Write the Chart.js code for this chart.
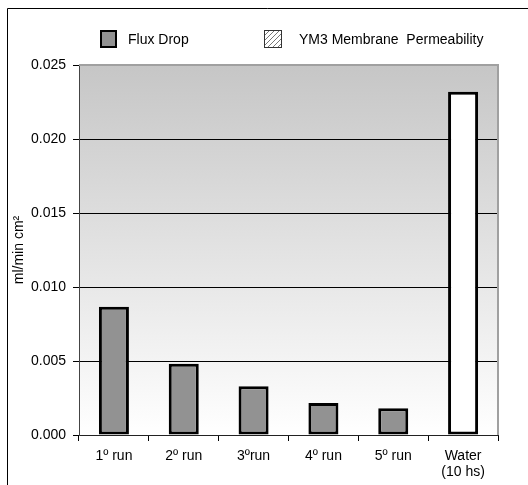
<!DOCTYPE html>
<html lang="en">
<head>
    <meta charset="UTF-8">
    <title>Flux Drop</title>
    <style>
        html, body { margin: 0; padding: 0; background: #fff; }
        .wrap { position: relative; width: 528px; height: 485px; }
    </style>
</head>
<body>
    <div class="wrap">
        <canvas id="fluxChart" width="528" height="485"></canvas>
    </div>

    <script src="https://cdn.jsdelivr.net/npm/chart.js"></script>
<script>
    const categories = ['1º run', '2º run', '3ºrun', '4º run', '5º run', ['Water', '(10 hs)']];
    const fluxDrop = [0.00866, 0.00481, 0.0033, 0.00217, 0.00181, null];
    const permeability = [null, null, null, null, null, 0.0232];
    const yTicks = [0, 0.005, 0.01, 0.015, 0.02, 0.025];

    const fontFamily = '"Liberation Sans", Arial, sans-serif';

    // hatch pattern for the legend box
    function makeHatch() {
        const c = document.createElement('canvas');
        c.width = 5;
        c.height = 5;
        const g = c.getContext('2d');
        g.fillStyle = '#fff';
        g.fillRect(0, 0, 5, 5);
        g.strokeStyle = '#777';
        g.lineWidth = 1;
        g.beginPath();
        g.moveTo(0, 5); g.lineTo(5, 0);
        g.moveTo(-1, 1); g.lineTo(1, -1);
        g.moveTo(4, 6); g.lineTo(6, 4);
        g.stroke();
        return g.createPattern(c, 'repeat');
    }

    // background gradient, frame, plot border, legend
    const decor = {
        id: 'decor',
        beforeDraw(chart) {
            const { ctx, chartArea: a } = chart;
            ctx.save();
            ctx.strokeStyle = '#000';
            ctx.lineWidth = 1;
            ctx.beginPath();
            ctx.moveTo(7.5, 485);
            ctx.lineTo(7.5, 8.5);
            ctx.lineTo(528, 8.5);
            ctx.stroke();

            const grad = ctx.createLinearGradient(0, a.top, 0, a.bottom);
            grad.addColorStop(0, '#c6c6c6');
            grad.addColorStop(1, '#ffffff');
            ctx.fillStyle = grad;
            ctx.fillRect(a.left, a.top, a.right - a.left, a.bottom - a.top);
            ctx.restore();
        },
        afterDraw(chart) {
            const { ctx, chartArea: a } = chart;
            ctx.save();
            ctx.strokeStyle = '#a0a0a0';
            ctx.lineWidth = 2;
            ctx.beginPath();
            ctx.moveTo(a.left, a.top);
            ctx.lineTo(a.right, a.top);
            ctx.lineTo(a.right, a.bottom);
            ctx.stroke();

            // legend
            ctx.font = '14px ' + fontFamily;
            ctx.textBaseline = 'middle';
            const ds = chart.data.datasets;
            ctx.fillStyle = ds[0].backgroundColor;
            ctx.fillRect(101, 31, 15, 16);
            ctx.strokeStyle = '#000';
            ctx.lineWidth = 2;
            ctx.strokeRect(101, 31, 15, 16);
            ctx.fillStyle = '#000';
            ctx.fillText(ds[0].label, 128, 40);

            ctx.fillStyle = makeHatch();
            ctx.fillRect(264, 30, 18, 18);
            ctx.strokeStyle = '#333';
            ctx.lineWidth = 1;
            ctx.strokeRect(264.5, 30.5, 17, 17);
            ctx.fillStyle = '#000';
            ctx.fillText(ds[1].label, 299, 40);
            ctx.restore();
        }
    };

    const ctx = document.getElementById('fluxChart').getContext('2d');
    const fluxChart = new Chart(ctx, {
        type: 'bar',
        data: {
            labels: categories,
            datasets: [{
                label: 'Flux Drop',
                data: fluxDrop,
                backgroundColor: '#929292',
                borderColor: '#000',
                borderWidth: 3,
                borderSkipped: false
            }, {
                label: 'YM3 Membrane  Permeability',
                data: permeability,
                backgroundColor: '#ffffff',
                borderColor: '#000',
                borderWidth: 3,
                borderSkipped: false
            }]
        },
        options: {
            responsive: false,
            animation: false,
            skipNull: true,
            categoryPercentage: 0.86,
            barPercentage: 0.5,
            layout: { padding: { left: 0, top: 65, right: 30, bottom: 0 } },
            plugins: {
                legend: { display: false },
                tooltip: { enabled: false }
            },
            scales: {
                x: {
                    afterFit: s => { s.height = 50; },
                    grid: {
                        offset: true,
                        drawOnChartArea: false,
                        tickLength: 6,
                        tickColor: '#000'
                    },
                    border: { color: '#222', width: 1 },
                    ticks: {
                        color: '#000',
                        padding: 7,
                        maxRotation: 0,
                        font: { family: fontFamily, size: 14, lineHeight: 1.15 }
                    }
                },
                y: {
                    min: 0,
                    max: 0.025,
                    afterFit: s => { s.width = 79; },
                    afterBuildTicks: s => { s.ticks = yTicks.map(v => ({ value: v })); },
                    grid: {
                        color: c => (c.tick && (c.tick.value === 0 || c.tick.value === 0.025)) ? 'rgba(0,0,0,0)' : '#000',
                        tickColor: '#000',
                        tickLength: 6,
                        lineWidth: 1
                    },
                    border: { color: '#444', width: 1 },
                    ticks: {
                        color: '#000',
                        padding: 7,
                        font: { family: fontFamily, size: 14 },
                        callback: v => Number(v).toFixed(3)
                    },
                    title: {
                        display: true,
                        text: 'ml/min cm²',
                        color: '#000',
                        padding: { top: 11, bottom: 0 },
                        font: { family: fontFamily, size: 14 }
                    }
                }
            }
        },
        plugins: [decor]
    });
</script>

</body>
</html>
